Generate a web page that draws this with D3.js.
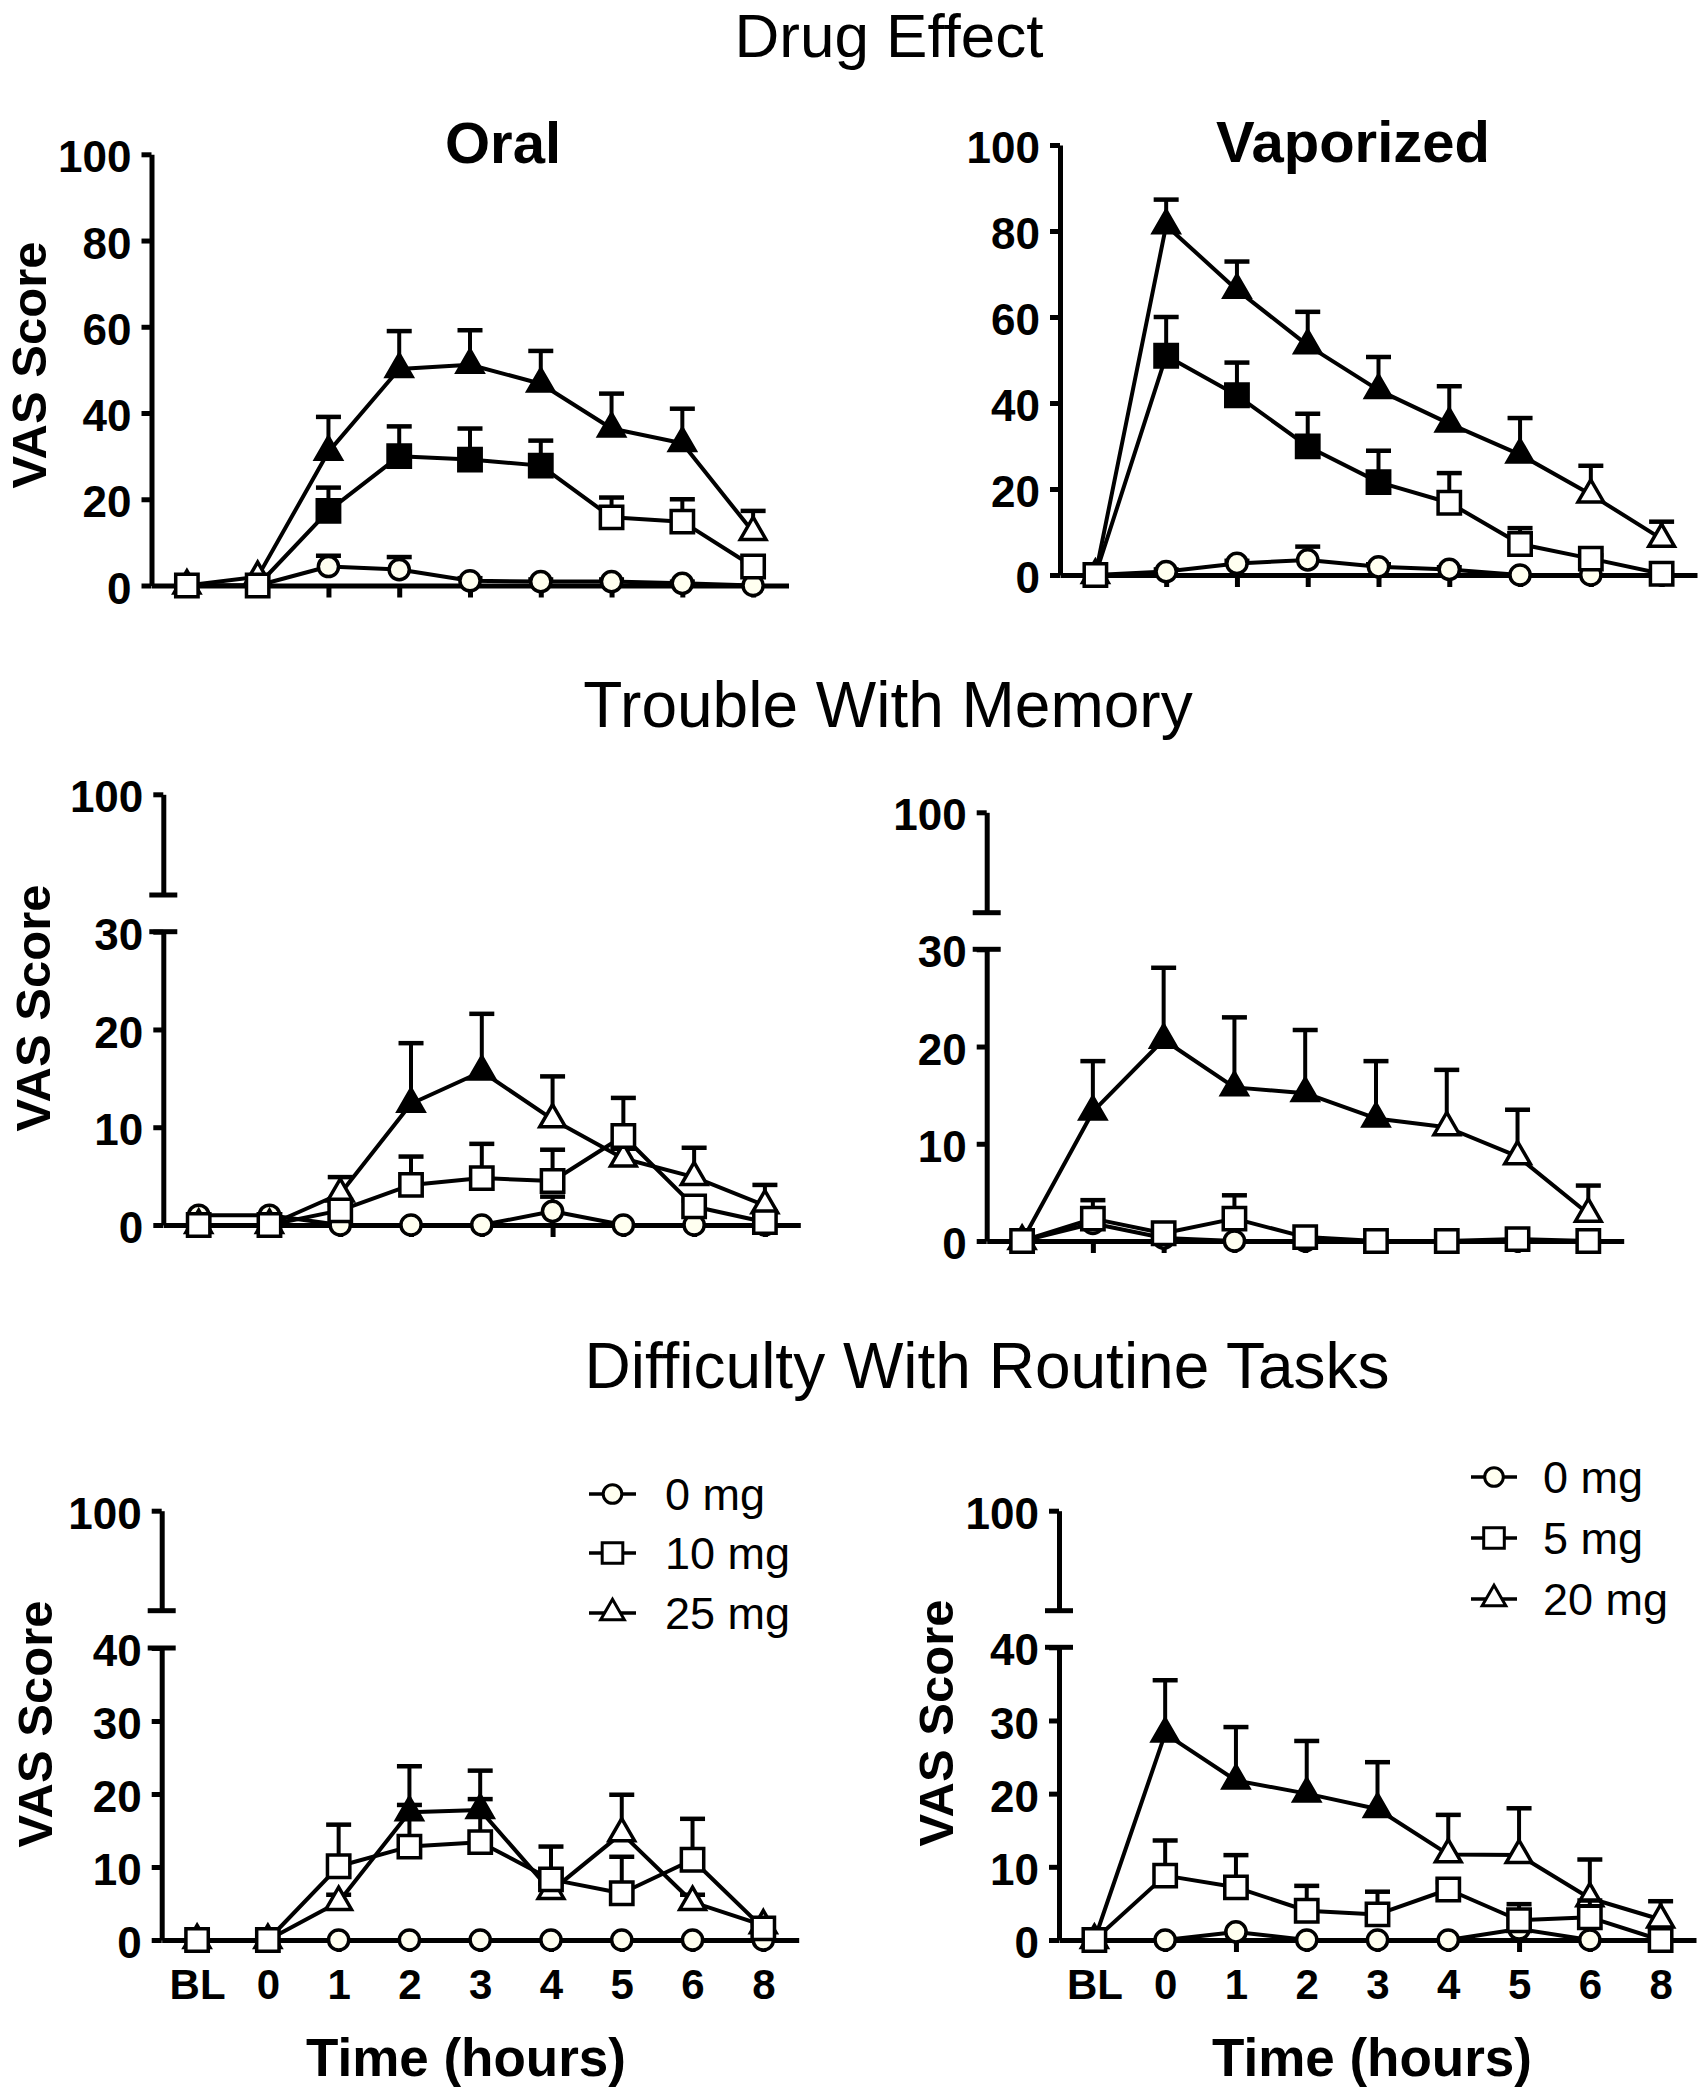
<!DOCTYPE html>
<html><head><meta charset="utf-8">
<script src="https://cdn.jsdelivr.net/npm/d3@7"></script>
<style>
body{margin:0;background:#fff}
svg{display:block}
text{font-family:"Liberation Sans",Arial,Helvetica,sans-serif;fill:#000}
</style></head><body>
<svg id="c" width="1698" height="2089"></svg>
<script>
// ---------- DATA ----------
const categories = ["BL","0","1","2","3","4","5","6","8"];
const rowTitles = ["Drug Effect","Trouble With Memory","Difficulty With Routine Tasks"];
const colTitles = ["Oral","Vaporized"];
const legendOral = ["0 mg","10 mg","25 mg"];
const legendVap = ["0 mg","5 mg","20 mg"];
const ticksDrug = [0,20,40,60,80,100];
const ticksMemory = [0,10,20,30];
const ticksRoutine = [0,10,20,30,40];

// Drug Effect – Oral
const drugOral0 = [0,0,4.4,3.7,1.1,0.9,0.9,0.5,0];
const drugOral0Sem = [0,0,2.5,2.9,0.6,0.5,0.5,0.4,0];
const drugOral10 = [0,0,17.3,30.0,29.2,27.8,15.8,14.8,4.4];
const drugOral10Sem = [0,0,5.4,6.9,7.2,5.8,4.6,5.2,1.2];
const drugOral10Filled = [0,0,1,1,1,1,0,0,0];
const drugOral25 = [0,2.0,31.0,50.2,51.2,46.8,36.4,33.0,12.4];
const drugOral25Sem = [0,0,8.1,8.8,8.0,7.6,8.1,8.0,4.9];
const drugOral25Filled = [0,0,1,1,1,1,1,1,0];

// Drug Effect – Vaporized
const drugVap0 = [0,0.8,2.7,3.5,1.9,1.3,0,0,0];
const drugVap0Sem = [0,0.5,0.6,3.1,0.6,0.5,0,0,0];
const drugVap5 = [0,51.0,41.8,29.9,21.6,16.8,7.2,3.8,0.3];
const drugVap5Sem = [0,9.0,7.6,7.6,7.3,6.9,3.7,0.8,0.3];
const drugVap5Filled = [0,1,1,1,1,0,0,0,0];
const drugVap20 = [0,81.3,66.3,53.4,43.0,35.2,28.0,18.7,8.4];
const drugVap20Sem = [0,6.0,6.6,7.8,7.7,8.7,8.5,6.7,4.0];
const drugVap20Filled = [0,1,1,1,1,1,1,0,0];

// Trouble With Memory – Oral
const memOral0 = [1.0,1.0,0,0,0,1.4,0,0,0];
const memOral0Sem = [0,0,0,0,0,1.5,0,0,0];
const memOral10 = [0,0,1.5,4.1,4.8,4.5,9.1,1.9,0.3];
const memOral10Sem = [0,0,0.6,2.9,3.5,3.2,3.9,0.6,0];
const memOral10Filled = [0,0,0,0,0,0,0,0,0];
const memOral25 = [0,0,3.2,12.4,15.7,10.8,6.8,4.9,2.0];
const memOral25Sem = [0,0,1.7,6.2,5.9,4.4,1.0,3.0,2.1];
const memOral25Filled = [0,0,0,1,1,0,0,0,0];

// Trouble With Memory – Vaporized
const memVap0 = [0,1.8,0.3,0,0,0,0,0,0];
const memVap0Sem = [0,0,0,0,0,0,0,0,0];
const memVap5 = [0,2.3,0.8,2.3,0.4,0,0,0.2,0];
const memVap5Sem = [0,1.9,0.3,2.4,0,0,0,0,0];
const memVap5Filled = [0,0,0,0,0,0,0,0,0];
const memVap20 = [0,13.3,20.7,15.8,15.2,12.6,11.7,8.7,2.8];
const memVap20Sem = [0,5.2,7.4,7.2,6.5,5.9,5.9,4.8,2.9];
const memVap20Filled = [0,1,1,1,1,1,0,0,0];

// Difficulty With Routine Tasks – Oral
const routOral0 = [0,0,0,0,0,0,0,0,0];
const routOral0Sem = [0,0,0,0,0,0,0,0,0];
const routOral10 = [0,0,10.1,12.8,13.4,8.3,6.4,11.0,1.6];
const routOral10Sem = [0,0,5.7,5.7,5.9,4.5,5.0,5.6,0.4];
const routOral10Filled = [0,0,0,0,0,0,0,0,0];
const routOral25 = [0,0,5.2,17.5,17.8,6.7,14.6,5.2,2.0];
const routOral25Sem = [0,0,1.0,6.3,5.4,1.0,5.3,1.0,0.4];
const routOral25Filled = [0,0,0,1,1,0,0,0,0];

// Difficulty With Routine Tasks – Vaporized
const routVap0 = [0,0,1.1,0,0,0,1.5,0,0];
const routVap0Sem = [0,0,0,0,0,0,0,0,0];
const routVap5 = [0,8.8,7.2,4.0,3.5,6.9,2.7,3.1,0];
const routVap5Sem = [0,4.8,4.4,3.4,3.1,1.0,2.2,2.3,0];
const routVap5Filled = [0,0,0,0,0,0,0,0,0];
const routVap20 = [0,28.2,21.8,20.0,17.9,11.7,11.6,5.7,2.8];
const routVap20Sem = [0,7.3,7.3,7.2,6.4,5.4,6.4,5.3,2.5];
const routVap20Filled = [0,1,1,1,1,0,0,0,0];

const none = [0,0,0,0,0,0,0,0,0];

// ---------- LAYOUT ----------
const STEP9 = 637;
const panels = [
  {ax:151.5, y0:585.5, yTopPix:154.3, yMax:100, ticks:ticksDrug, broken:false, xLabels:false,
   series:[[drugOral0,drugOral0Sem,none,"circle"],[drugOral25,drugOral25Sem,drugOral25Filled,"triangle"],[drugOral10,drugOral10Sem,drugOral10Filled,"square"]],
   vas:{x:46,y:365}},
  {ax:1060, y0:575, yTopPix:145, yMax:100, ticks:ticksDrug, broken:false, xLabels:false,
   series:[[drugVap0,drugVap0Sem,none,"circle"],[drugVap20,drugVap20Sem,drugVap20Filled,"triangle"],[drugVap5,drugVap5Sem,drugVap5Filled,"square"]]},
  {ax:163.3, y0:1225, yTopPix:931.7, yMax:30, ticks:ticksMemory, broken:true, y100:794.3, stub:895, xLabels:false,
   series:[[memOral0,memOral0Sem,none,"circle"],[memOral25,memOral25Sem,memOral25Filled,"triangle"],[memOral10,memOral10Sem,memOral10Filled,"square"]],
   vas:{x:50,y:1008}},
  {ax:986.7, y0:1241, yTopPix:949.3, yMax:30, ticks:ticksMemory, broken:true, y100:812.3, stub:912.7, xLabels:false,
   series:[[memVap0,memVap0Sem,none,"circle"],[memVap20,memVap20Sem,memVap20Filled,"triangle"],[memVap5,memVap5Sem,memVap5Filled,"square"]]},
  {ax:161.7, y0:1940, yTopPix:1648, yMax:40, ticks:ticksRoutine, broken:true, y100:1510.7, stub:1610.7, xLabels:true,
   series:[[routOral0,routOral0Sem,none,"circle"],[routOral25,routOral25Sem,routOral25Filled,"triangle"],[routOral10,routOral10Sem,routOral10Filled,"square"]],
   vas:{x:52,y:1724}, time:{x:466,y:2076},
   legend:{labels:legendOral, lx1:589, lx2:636, ys:[1494,1553,1613], tx:665}},
  {ax:1059, y0:1940, yTopPix:1647.3, yMax:40, ticks:ticksRoutine, broken:true, y100:1510.7, stub:1610.7, xLabels:true,
   series:[[routVap0,routVap0Sem,none,"circle"],[routVap20,routVap20Sem,routVap20Filled,"triangle"],[routVap5,routVap5Sem,routVap5Filled,"square"]],
   vas:{x:953,y:1723}, time:{x:1372,y:2076},
   legend:{labels:legendVap, lx1:1471, lx2:1517, ys:[1477,1538,1599], tx:1543}}
];

const svg = d3.select("#c");
const CIRCLE_FILL = "#fffff0";
const symbolOf = {circle:d3.symbolCircle, square:d3.symbolSquare, triangle:d3.symbolTriangle};
const sizeOf = {circle:320, square:500, triangle:285};
const LEGEND_ORDER = ["circle","square","triangle"];

function styleAxis(sel){
  sel.selectAll("path.domain").attr("stroke","#000").attr("stroke-width",5);
  sel.selectAll(".tick line").attr("stroke","#000").attr("stroke-width",5);
  sel.selectAll(".tick text").attr("fill","#000").style("font-weight","bold")
     .attr("font-family",null);
}

function drawPanel(p){
  const g = svg.append("g");
  const x = d3.scalePoint().domain(categories).range([p.ax, p.ax+STEP9]).padding(0.5);
  const y = d3.scaleLinear().domain([0,p.yMax]).range([p.y0, p.yTopPix]);

  const yAx = g.append("g").attr("transform",`translate(${p.ax},0)`)
    .call(d3.axisLeft(y).tickValues(p.ticks).tickSize(10).tickSizeOuter(0).tickPadding(10).tickFormat(d3.format("d")));
  yAx.attr("font-size",44);
  styleAxis(yAx);
  yAx.selectAll(".tick text").attr("dy","0.4em");

  if(p.broken){
    const yUp = d3.scaleLinear().domain([85,100]).range([p.stub, p.y100]);
    const upAx = g.append("g").attr("transform",`translate(${p.ax},0)`)
      .call(d3.axisLeft(yUp).tickValues([100]).tickSize(10).tickSizeOuter(0).tickPadding(10).tickFormat(d3.format("d")));
    upAx.attr("font-size",44);
    styleAxis(upAx);
    upAx.selectAll(".tick text").attr("dy","0.4em");
    [p.stub, y(p.yMax)].forEach(cy=>{
      g.append("line").attr("x1",p.ax-14).attr("x2",p.ax+14).attr("y1",cy).attr("y2",cy)
       .attr("stroke","#000").attr("stroke-width",5);
    });
  }

  const xAx = g.append("g").attr("transform",`translate(0,${p.y0})`)
    .call(d3.axisBottom(x).tickSize(12).tickSizeOuter(0).tickPadding(17));
  xAx.attr("font-size",42);
  styleAxis(xAx);
  if(!p.xLabels) xAx.selectAll(".tick text").remove();

  p.series.forEach(([vals, sem, filled, shape])=>{
    const sg = g.append("g");
    const line = d3.line().x((d,i)=>x(categories[i])).y(d=>y(d));
    sg.append("path").attr("d",line(vals)).attr("fill","none").attr("stroke","#000")
      .attr("stroke-width",4).attr("stroke-linejoin","round");
    vals.forEach((v,i)=>{
      if(sem[i]<=0) return;
      const cx = x(categories[i]);
      sg.append("line").attr("x1",cx).attr("x2",cx).attr("y1",y(v)).attr("y2",y(v+sem[i]))
        .attr("stroke","#000").attr("stroke-width",4);
      sg.append("line").attr("x1",cx-12.5).attr("x2",cx+12.5).attr("y1",y(v+sem[i])).attr("y2",y(v+sem[i]))
        .attr("stroke","#000").attr("stroke-width",4.5);
    });
    const sym = d3.symbol().type(symbolOf[shape]).size(sizeOf[shape]);
    vals.forEach((v,i)=>{
      const f = filled[i] ? "#000" : (shape==="circle" ? CIRCLE_FILL : "#fff");
      sg.append("path").attr("d",sym()).attr("transform",`translate(${x(categories[i])},${y(v)})`)
        .attr("fill",f).attr("stroke","#000").attr("stroke-width",3.5);
    });
  });

  if(p.vas){
    g.append("text").attr("transform",`translate(${p.vas.x},${p.vas.y}) rotate(-90)`)
     .attr("text-anchor","middle").attr("font-size",49).attr("font-weight","bold").text("VAS Score");
  }
  if(p.time){
    g.append("text").attr("x",p.time.x).attr("y",p.time.y).attr("text-anchor","middle")
     .attr("font-size",53).attr("font-weight","bold").text("Time (hours)");
  }
  if(p.legend){
    const L = p.legend;
    L.labels.forEach((lab,k)=>{
      const shape = LEGEND_ORDER[k];
      const ly = L.ys[k];
      g.append("line").attr("x1",L.lx1).attr("x2",L.lx2).attr("y1",ly).attr("y2",ly)
        .attr("stroke","#000").attr("stroke-width",3.5);
      const sym = d3.symbol().type(symbolOf[shape]).size(sizeOf[shape]*0.85);
      g.append("path").attr("d",sym()).attr("transform",`translate(${(L.lx1+L.lx2)/2},${ly})`)
        .attr("fill", shape==="circle"?CIRCLE_FILL:"#fff").attr("stroke","#000").attr("stroke-width",3);
      g.append("text").attr("x",L.tx).attr("y",ly).attr("dy","0.36em").attr("font-size",45).text(lab);
    });
  }
}

panels.forEach(drawPanel);

const rowTitlePos = [{x:889,y:57,s:62},{x:888,y:727,s:64},{x:987,y:1388,s:64}];
rowTitles.forEach((t,i)=>{
  svg.append("text").attr("x",rowTitlePos[i].x).attr("y",rowTitlePos[i].y).attr("text-anchor","middle")
    .attr("font-size",rowTitlePos[i].s).text(t);
});
const colTitlePos = [{x:503,y:163},{x:1353,y:162}];
colTitles.forEach((t,i)=>{
  svg.append("text").attr("x",colTitlePos[i].x).attr("y",colTitlePos[i].y).attr("text-anchor","middle")
    .attr("font-size",58).attr("font-weight","bold").text(t);
});
</script>
</body></html>
